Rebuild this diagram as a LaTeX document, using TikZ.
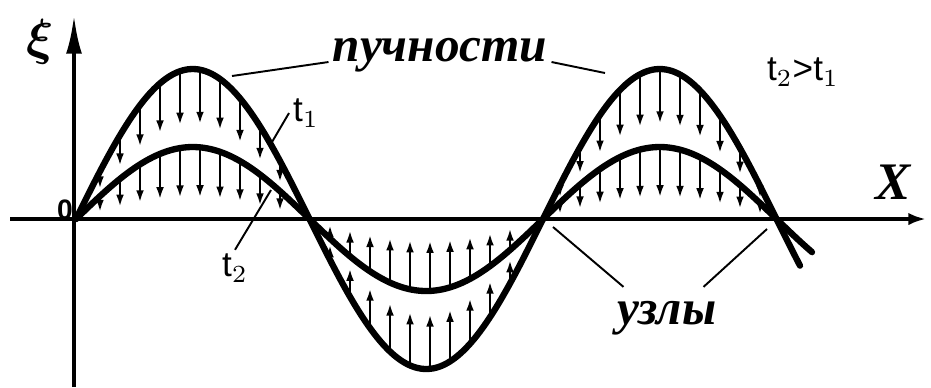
\documentclass[tikz,border=0pt]{standalone}
\usepackage{amsmath}
\usepackage{fontspec}
\setmainfont{Liberation Serif}
\newfontfamily\handfont{Liberation Sans}
\usetikzlibrary{arrows.meta, calc}

\begin{document}
\begin{tikzpicture}[x=0.01cm, y=-0.01cm,
  wave/.style={line width=1.8pt, line join=round, line cap=round},
  vel/.style={line width=0.7pt, -{Latex[length=3.5pt, width=2.2pt]}},
  pointer/.style={line width=0.55pt},
  caption/.style={font=\fontsize{14}{16}\selectfont\bfseries\itshape, inner sep=1pt},
  tlabel/.style={font=\fontsize{10}{12}\selectfont\handfont, inner sep=1pt}
]
  \useasboundingbox (0,0) rectangle (931,387);
  % axes
  \draw[line width=1.2pt, -{Latex[length=11pt, width=4.5pt]}] (74,387) -- (74,15);
  \draw[line width=1.2pt, -{Latex[length=5pt, width=3.5pt]}] (10,219) -- (926,219);
  % standing wave at t1 and t2 (0.77088 = 180/233.5)
  \draw[wave] plot[domain=76:800, samples=150, smooth] (\x, {219-150*sin(0.77088*(\x-76))});
  \draw[wave] plot[domain=76:812, samples=150, smooth] (\x, {219-72*sin(0.77088*(\x-76))});
  \foreach \xs/\m in {100/9, 330/9, 560/10} {
    \foreach \k in {0,...,\m} {
      \pgfmathsetmacro\xa{\xs+20*\k}
      \pgfmathsetmacro\ph{sin(0.77088*(\xa-76))}
      \pgfmathsetmacro\yL{219-150*\ph}
      \pgfmathsetmacro\yS{219-72*\ph}
      \draw[vel] (\xa,\yL) -- (\xa,{\yL+0.7*(\yS-\yL)});
      \draw[vel] (\xa,\yS) -- (\xa,{\yS+0.7*(219-\yS)});
    }
  }
  % labels
  \node[font=\fontsize{14}{16}\selectfont] (xi) at (40,42) {$\boldsymbol{\xi}$};
  \node[tlabel, font=\fontsize{8}{10}\selectfont\handfont\bfseries] (zero) at (65,210) {0};
  \node[font=\fontsize{15}{17}\selectfont\bfseries\itshape] (xlab) at (893,182) {X};
  \node[tlabel] (order) at (803,72) {t$_2$>t$_1$};
  \node[caption] (antinodes) at (440,55) {пучности};
  \node[caption] (nodes) at (667,318) {узлы};
  \node[tlabel] (tone) at (306,113) {t$_1$};
  \node[tlabel] (ttwo) at (235,268) {t$_2$};
  \coordinate (peakA) at (232,76);
  \coordinate (peakB) at (605,73);
  \coordinate (onL) at (272,142);
  \coordinate (onS) at (271,190);
  \coordinate (nodeB) at (553,227);
  \coordinate (nodeC) at (767,229);
  \draw[pointer] (antinodes.west) ++(0,7) -- (peakA);
  \draw[pointer] (antinodes.east) ++(0,7) -- (peakB);
  \draw[pointer] (tone.west) -- (onL);
  \draw[pointer] (ttwo.north) -- (onS);
  \draw[pointer] ($(nodes.north west)+(10,-10)$) -- (nodeB);
  \draw[pointer] ($(nodes.north east)+(-17,-10)$) -- (nodeC);
\end{tikzpicture}
\end{document}
